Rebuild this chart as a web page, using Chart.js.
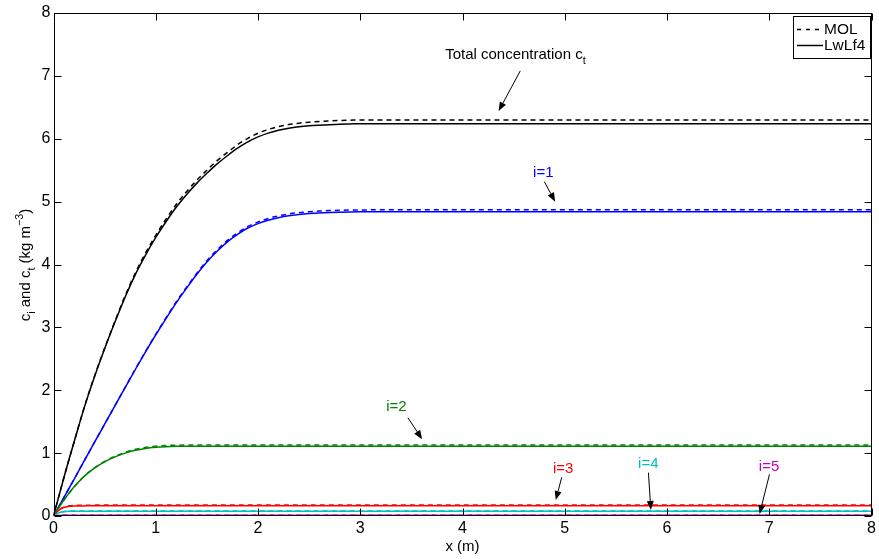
<!DOCTYPE html>
<html>
<head>
<meta charset="utf-8">
<script src="https://cdn.jsdelivr.net/npm/chart.js@4/dist/chart.umd.min.js"></script>
<style>
html,body{margin:0;padding:0;background:#fff;}
canvas{display:block;}
</style>
</head>
<body>
<canvas id="c" width="879" height="559"></canvas>
<script>
// ---------- DATA ----------
const xs = [0, 0.05, 0.1, 0.15, 0.2, 0.3, 0.4, 0.5, 0.6, 0.7, 0.8, 0.9, 1.0, 1.1, 1.2, 1.3, 1.4, 1.5, 1.6, 1.7, 1.8, 1.9, 2.0, 2.1, 2.2, 2.3, 2.4, 2.5, 2.6, 2.7, 2.8, 2.9, 3.0, 3.5, 4, 5, 6, 7, 8];

const totalLwLf4 = [0, 0.3, 0.6, 0.89, 1.17, 1.72, 2.21, 2.66, 3.08, 3.48, 3.84, 4.15, 4.43, 4.68, 4.91, 5.11, 5.29, 5.45, 5.6, 5.73, 5.85, 5.95, 6.03, 6.09, 6.135, 6.168, 6.19, 6.205, 6.215, 6.223, 6.23, 6.235, 6.24, 6.24, 6.24, 6.24, 6.24, 6.24, 6.24];
const totalMOL   = [0, 0.3, 0.6, 0.89, 1.17, 1.725, 2.22, 2.67, 3.095, 3.50, 3.865, 4.18, 4.465, 4.72, 4.955, 5.157, 5.338, 5.5, 5.652, 5.783, 5.905, 6.006, 6.087, 6.147, 6.193, 6.226, 6.248, 6.264, 6.275, 6.283, 6.29, 6.295, 6.3, 6.3, 6.3, 6.3, 6.3, 6.3, 6.3];

const i1LwLf4 = [0, 0.145, 0.29, 0.435, 0.58, 0.875, 1.17, 1.46, 1.75, 2.04, 2.33, 2.61, 2.88, 3.14, 3.39, 3.62, 3.84, 4.04, 4.21, 4.36, 4.48, 4.58, 4.65, 4.705, 4.745, 4.775, 4.795, 4.81, 4.82, 4.827, 4.832, 4.836, 4.838, 4.84, 4.84, 4.84, 4.84, 4.84, 4.84];
const i1MOL   = [0, 0.145, 0.29, 0.435, 0.58, 0.875, 1.17, 1.46, 1.752, 2.043, 2.335, 2.617, 2.89, 3.152, 3.405, 3.637, 3.858, 4.06, 4.232, 4.383, 4.504, 4.605, 4.675, 4.732, 4.773, 4.804, 4.825, 4.84, 4.85, 4.857, 4.862, 4.866, 4.868, 4.87, 4.87, 4.87, 4.87, 4.87, 4.87];

const i2LwLf4 = [0, 0.13, 0.25, 0.36, 0.46, 0.63, 0.76, 0.86, 0.94, 1.0, 1.045, 1.075, 1.093, 1.103, 1.108, 1.11, 1.11, 1.11, 1.11, 1.11, 1.11, 1.11, 1.11, 1.11, 1.11, 1.11, 1.11, 1.11, 1.11, 1.11, 1.11, 1.11, 1.11, 1.11, 1.11, 1.11, 1.11, 1.11, 1.11];
const i2MOL   = [0, 0.13, 0.25, 0.36, 0.46, 0.632, 0.765, 0.868, 0.95, 1.012, 1.06, 1.092, 1.111, 1.121, 1.126, 1.128, 1.13, 1.13, 1.13, 1.13, 1.13, 1.13, 1.13, 1.13, 1.13, 1.13, 1.13, 1.13, 1.13, 1.13, 1.13, 1.13, 1.13, 1.13, 1.13, 1.13, 1.13, 1.13, 1.13];

const i3LwLf4 = [0, 0.09, 0.135, 0.153, 0.159, 0.161, 0.162, 0.162, 0.162, 0.162, 0.162, 0.162, 0.162, 0.162, 0.162, 0.162, 0.162, 0.162, 0.162, 0.162, 0.162, 0.162, 0.162, 0.162, 0.162, 0.162, 0.162, 0.162, 0.162, 0.162, 0.162, 0.162, 0.162, 0.162, 0.162, 0.162, 0.162, 0.162, 0.162];
const i3MOL   = [0, 0.092, 0.142, 0.162, 0.169, 0.172, 0.173, 0.173, 0.173, 0.173, 0.173, 0.173, 0.173, 0.173, 0.173, 0.173, 0.173, 0.173, 0.173, 0.173, 0.173, 0.173, 0.173, 0.173, 0.173, 0.173, 0.173, 0.173, 0.173, 0.173, 0.173, 0.173, 0.173, 0.173, 0.173, 0.173, 0.173, 0.173, 0.173];

const i4LwLf4 = [0, 0.05, 0.068, 0.074, 0.075, 0.075, 0.075, 0.075, 0.075, 0.075, 0.075, 0.075, 0.075, 0.075, 0.075, 0.075, 0.075, 0.075, 0.075, 0.075, 0.075, 0.075, 0.075, 0.075, 0.075, 0.075, 0.075, 0.075, 0.075, 0.075, 0.075, 0.075, 0.075, 0.075, 0.075, 0.075, 0.075, 0.075, 0.075];
const i4MOL   = [0, 0.052, 0.072, 0.078, 0.08, 0.08, 0.08, 0.08, 0.08, 0.08, 0.08, 0.08, 0.08, 0.08, 0.08, 0.08, 0.08, 0.08, 0.08, 0.08, 0.08, 0.08, 0.08, 0.08, 0.08, 0.08, 0.08, 0.08, 0.08, 0.08, 0.08, 0.08, 0.08, 0.08, 0.08, 0.08, 0.08, 0.08, 0.08];

const i5LwLf4 = [0, 0.008, 0.01, 0.01, 0.01, 0.01, 0.01, 0.01, 0.01, 0.01, 0.01, 0.01, 0.01, 0.01, 0.01, 0.01, 0.01, 0.01, 0.01, 0.01, 0.01, 0.01, 0.01, 0.01, 0.01, 0.01, 0.01, 0.01, 0.01, 0.01, 0.01, 0.01, 0.01, 0.01, 0.01, 0.01, 0.01, 0.01, 0.01];
const i5MOL   = [0, 0.009, 0.012, 0.012, 0.012, 0.012, 0.012, 0.012, 0.012, 0.012, 0.012, 0.012, 0.012, 0.012, 0.012, 0.012, 0.012, 0.012, 0.012, 0.012, 0.012, 0.012, 0.012, 0.012, 0.012, 0.012, 0.012, 0.012, 0.012, 0.012, 0.012, 0.012, 0.012, 0.012, 0.012, 0.012, 0.012, 0.012, 0.012];

const xTicks = [0, 1, 2, 3, 4, 5, 6, 7, 8];
const yTicks = [0, 1, 2, 3, 4, 5, 6, 7, 8];

const legendLabels = ['MOL', 'LwLf4'];

// ---------- STYLE ----------
const FONT = '"Liberation Sans", Arial, Helvetica, sans-serif';
const series = [
  {solid: i5LwLf4, dashed: i5MOL, color: '#bf00bf'},
  {solid: i4LwLf4, dashed: i4MOL, color: '#00bfbf'},
  {solid: i3LwLf4, dashed: i3MOL, color: '#ff0000'},
  {solid: i2LwLf4, dashed: i2MOL, color: '#008000'},
  {solid: i1LwLf4, dashed: i1MOL, color: '#0000ff'},
  {solid: totalLwLf4, dashed: totalMOL, color: '#000000'}
];
const pts = arr => xs.map((x, k) => ({x: x, y: arr[k]}));
const datasets = [];
series.forEach(s => {
  datasets.push({data: pts(s.solid), borderColor: s.color, borderWidth: 1.5, pointRadius: 0, cubicInterpolationMode: 'monotone', fill: false});
});
series.forEach(s => {
  datasets.push({data: pts(s.dashed), borderColor: s.color, borderWidth: 1.5, borderDash: [5, 4], pointRadius: 0, cubicInterpolationMode: 'monotone', fill: false});
});

// annotations (text position in data coords, arrow from -> to in data coords)
const notes = [
  {text: [['Total concentration c', 0], ['t', -1]], color: '#000', x: 3.83, y: 7.33, align: 'left', arrow: [4.565, 7.08, 4.353, 6.44]},
  {text: [['i=1', 0]], color: '#0000ff', x: 4.79, y: 5.45, align: 'center', arrow: [4.80, 5.317, 4.906, 4.999]},
  {text: [['i=2', 0]], color: '#008000', x: 3.354, y: 1.729, align: 'center', arrow: [3.466, 1.563, 3.605, 1.22]},
  {text: [['i=3', 0]], color: '#ff0000', x: 4.984, y: 0.743, align: 'center', arrow: [4.970, 0.615, 4.912, 0.254]},
  {text: [['i=4', 0]], color: '#00bfbf', x: 5.817, y: 0.827, align: 'center', arrow: [5.818, 0.689, 5.842, 0.095]},
  {text: [['i=5', 0]], color: '#bf00bf', x: 6.998, y: 0.784, align: 'center', arrow: [7.002, 0.663, 6.905, 0.032]}
];

// rich text: segments [text, mode] mode 0 normal, -1 sub, 1 sup
function richWidth(ctx, segs, size) {
  let w = 0;
  segs.forEach(([t, m]) => {
    ctx.font = (m === 0 ? size : size * 0.72) + 'px ' + FONT;
    w += ctx.measureText(t).width;
  });
  return w;
}
function drawRich(ctx, segs, x, y, size) {
  ctx.textBaseline = 'middle';
  ctx.textAlign = 'left';
  let cx = x;
  segs.forEach(([t, m]) => {
    const fs = m === 0 ? size : size * 0.72;
    ctx.font = fs + 'px ' + FONT;
    const dy = m === -1 ? size * 0.42 : (m === 1 ? -size * 0.4 : 0);
    ctx.fillText(t, cx, y + dy);
    cx += ctx.measureText(t).width;
  });
}
function arrow(ctx, x1, y1, x2, y2) {
  ctx.save();
  ctx.strokeStyle = '#000'; ctx.fillStyle = '#000'; ctx.lineWidth = 1;
  const a = Math.atan2(y2 - y1, x2 - x1);
  const L = 9, W = 3.5;
  const bx = x2 - L * Math.cos(a), by = y2 - L * Math.sin(a);
  ctx.beginPath(); ctx.moveTo(x1, y1); ctx.lineTo(bx, by); ctx.stroke();
  ctx.beginPath();
  ctx.moveTo(x2, y2);
  ctx.lineTo(bx + W * Math.sin(a), by - W * Math.cos(a));
  ctx.lineTo(bx - W * Math.sin(a), by + W * Math.cos(a));
  ctx.closePath(); ctx.fill();
  ctx.restore();
}

const decor = {
  id: 'decor',
  afterDraw(chart) {
    const ctx = chart.ctx, ca = chart.chartArea;
    const xs_ = chart.scales.x, ys_ = chart.scales.y;
    ctx.save();
    ctx.strokeStyle = '#000'; ctx.lineWidth = 1;
    const L = Math.round(ca.left) + 0.5, R = Math.round(ca.right) - 0.5, T = Math.round(ca.top) + 0.5, B = Math.round(ca.bottom) - 0.5;
    ctx.strokeRect(L, T, R - L, B - T);
    const tl = 7;
    ctx.beginPath();
    xTicks.forEach(v => {
      const p = Math.round(xs_.getPixelForValue(v)) + 0.5;
      ctx.moveTo(p, B); ctx.lineTo(p, B - tl);
      ctx.moveTo(p, T); ctx.lineTo(p, T + tl);
    });
    yTicks.forEach(v => {
      const p = Math.round(ys_.getPixelForValue(v)) + 0.5;
      ctx.moveTo(L, p); ctx.lineTo(L + tl, p);
      ctx.moveTo(R, p); ctx.lineTo(R - tl, p);
    });
    ctx.stroke();

    notes.forEach(n => {
      const px = xs_.getPixelForValue(n.x), py = ys_.getPixelForValue(n.y);
      ctx.fillStyle = n.color;
      const w = richWidth(ctx, n.text, 15);
      const left = n.align === 'center' ? px - w / 2 : px;
      drawRich(ctx, n.text, left, py, 15);
      const a = n.arrow;
      arrow(ctx, xs_.getPixelForValue(a[0]), ys_.getPixelForValue(a[1]), xs_.getPixelForValue(a[2]), ys_.getPixelForValue(a[3]));
    });

    ctx.fillStyle = '#000';
    ctx.font = '15px ' + FONT;
    ctx.textAlign = 'center'; ctx.textBaseline = 'middle';
    ctx.fillText('x (m)', (ca.left + ca.right) / 2, 547);
    const ySegs = [['c', 0], ['i', -1], [' and c', 0], ['t', -1], [' (kg m', 0], ['\u22123', 1], [')', 0]];
    const yw = richWidth(ctx, ySegs, 15);
    ctx.save();
    ctx.translate(26, 265);
    ctx.rotate(-Math.PI / 2);
    drawRich(ctx, ySegs, -yw / 2, 0, 15);
    ctx.restore();

    const lx = 793.5, ly = 16.5, lw = 77, lh = 42;
    ctx.fillStyle = '#fff';
    ctx.fillRect(lx, ly, lw, lh);
    ctx.strokeStyle = '#000'; ctx.lineWidth = 1;
    ctx.strokeRect(lx, ly, lw, lh);
    ctx.lineWidth = 1.5;
    ctx.beginPath(); ctx.setLineDash([4, 5]); ctx.moveTo(797, 29.5); ctx.lineTo(823, 29.5); ctx.stroke();
    ctx.beginPath(); ctx.setLineDash([]); ctx.moveTo(797, 45.5); ctx.lineTo(823, 45.5); ctx.stroke();
    ctx.fillStyle = '#000';
    ctx.font = '15.5px ' + FONT;
    ctx.textAlign = 'left'; ctx.textBaseline = 'middle';
    ctx.fillText(legendLabels[0], 824, 29.5);
    ctx.fillText(legendLabels[1], 824, 45.5);
    ctx.restore();
  }
};

new Chart(document.getElementById('c'), {
  type: 'line',
  data: {datasets: datasets},
  options: {
    responsive: false,
    animation: false,
    events: [],
    layout: {padding: {top: 13, right: 5, left: 0, bottom: 0}},
    plugins: {legend: {display: false}, tooltip: {enabled: false}},
    scales: {
      x: {
        type: 'linear', min: 0, max: 8,
        afterBuildTicks: s => { s.ticks = xTicks.map(v => ({value: v})); },
        ticks: {color: '#000', font: {size: 16, family: FONT}, padding: 3, maxRotation: 0, autoSkip: false},
        grid: {display: false, drawTicks: false},
        border: {display: false},
        afterFit: s => { s.height = 43; }
      },
      y: {
        type: 'linear', min: 0, max: 8,
        afterBuildTicks: s => { s.ticks = yTicks.map(v => ({value: v})); },
        ticks: {color: '#000', font: {size: 16, family: FONT}, padding: 3, autoSkip: false},
        grid: {display: false, drawTicks: false},
        border: {display: false},
        afterFit: s => { s.width = 53.5; }
      }
    }
  },
  plugins: [decor]
});
</script>
</body>
</html>
